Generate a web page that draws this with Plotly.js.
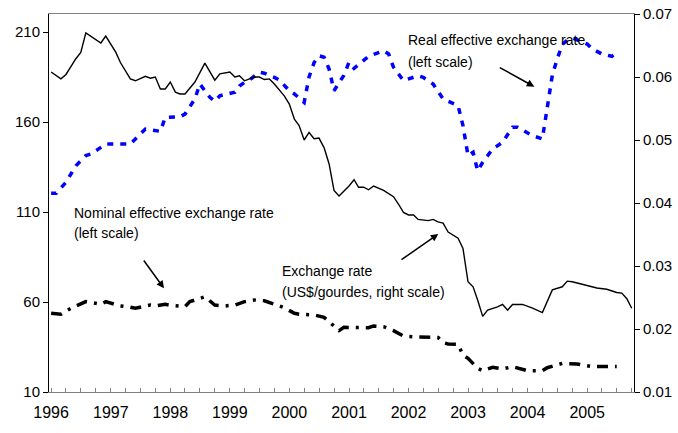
<!DOCTYPE html>
<html>
<head>
<meta charset="utf-8">
<script src="https://cdn.plot.ly/plotly-3.0.1.min.js"></script>
<style>
html,body{margin:0;padding:0;background:#fff;}
#chart{width:678px;height:433px;}
</style>
</head>
<body>
<div id="chart"></div>
<script>
// Month index 0 = January 1996
const erIdx = [0,2,3,5,6,7,10,11,13,14,16,17,19,20,21,22,23,24,25,26,27,29,31,33,34,36,37,38,39,40,41,42,43,44,45,47,48,49,50,51,52,53,54,55,56,57,58,60,61,62,63,64,65,67,69,70,71,72,73,74,76,77,78,79,80,82,83,84,85,86,87,88,90,91,92,93,95,97,98,99,101,103,104,105,107,110,112,114,115,116,117];
const erValues = [0.0608,0.0597,0.0604,0.0629,0.0639,0.0670,0.0654,0.0665,0.0639,0.0623,0.0597,0.0594,0.0601,0.0598,0.0600,0.0581,0.0581,0.0592,0.0576,0.0573,0.0573,0.0592,0.0622,0.0595,0.0605,0.0608,0.0600,0.0602,0.0594,0.0597,0.0600,0.0600,0.0596,0.0597,0.0589,0.0570,0.0557,0.0533,0.0523,0.0500,0.0512,0.0502,0.0503,0.0488,0.0462,0.0420,0.0411,0.0427,0.0437,0.0425,0.0425,0.0421,0.0427,0.0420,0.0410,0.0398,0.0385,0.0381,0.0381,0.0374,0.0372,0.0374,0.0370,0.0368,0.0354,0.0344,0.0328,0.0275,0.0267,0.0246,0.0220,0.0230,0.0235,0.0239,0.0230,0.0239,0.0239,0.0233,0.0229,0.0226,0.0262,0.0267,0.0276,0.0275,0.0271,0.0265,0.0263,0.0258,0.0257,0.0248,0.0233];

const reerIdx = [0,1,3,5,7,8,10,11,13,16,19,22,23,26,27,29,30,32,33,34,37,38,39,40,42,43,45,46,48,49,51,52,53,54,55,56,57,58,59,60,61,64,67,68,69,71,74,75,77,79,82,83,84,85,86,87,89,91,93,94,97,99,100,101,102,103,104,105,108,109,111,113,114];
const reerValues = [120.4,120.4,126.5,135.7,141.3,142.2,145.9,147.8,147.8,147.8,156.1,154.8,162.6,162.9,164.4,172.8,181.1,173.7,171.5,174.6,176.5,180.0,182.0,183.3,187.6,187.1,184.8,183.3,177.4,175.6,170.9,185.0,193.0,196.8,196.0,189.4,177.4,182.1,186.0,193.2,189.8,196.5,199.6,197.8,190.4,183.0,185.7,184.8,181.1,172.8,169.1,158.0,141.3,143.2,132.9,137.6,145.0,148.7,157.1,157.1,152.4,150.6,168.0,186.0,195.0,203.0,205.5,206.7,203.3,200.6,197.8,196.5,198.5];

const neerIdx = [0,2,4,7,8,10,11,14,16,17,20,21,23,24,27,28,31,33,35,37,39,41,43,46,47,49,50,53,55,56,58,59,61,64,65,67,69,71,73,75,78,79,80,82,83,84,86,87,89,91,93,96,99,100,103,106,109,114];
const neerValues = [53.7,53.2,56.5,60.2,59.8,58.7,60.2,57.8,57.1,56.5,58.3,57.8,58.7,58.2,57.4,60.2,62.9,58.3,57.8,58.3,60.2,61.1,60.7,57.4,56.8,53.7,53.2,52.8,51.5,49.1,44.1,45.9,45.7,45.7,46.7,46.3,44.1,41.1,40.7,40.7,40.3,37.4,36.7,36.5,30.6,28.7,23.2,21.8,23.7,22.8,24.1,21.8,21.8,23.5,25.9,25.6,24.1,24.1];

const yearLabels = ['1996','1997','1998','1999','2000','2001','2002','2003','2004','2005'];
const leftTicks = [10,60,110,160,210];
const rightTicks = [0.01,0.02,0.03,0.04,0.05,0.06,0.07];

function toDate(i){
  const y = 1996 + Math.floor(i/12);
  const m = (i % 12) + 1;
  return y + '-' + (m < 10 ? '0' + m : m) + '-01';
}

const FONT = '"Liberation Sans", Arial, sans-serif';

const traces = [
  {
    x: reerIdx.map(toDate), y: reerValues, type: 'scatter', mode: 'lines',
    line: {color: '#0000FF', width: 3.5, dash: '6px,7px'}, yaxis: 'y'
  },
  {
    x: neerIdx.map(toDate), y: neerValues, type: 'scatter', mode: 'lines',
    line: {color: '#000000', width: 3.5, dash: '11px,7px,3px,7px'}, yaxis: 'y'
  },
  {
    x: erIdx.map(toDate), y: erValues, type: 'scatter', mode: 'lines',
    line: {color: '#000000', width: 1.4}, yaxis: 'y2'
  }
];

const W = 585, H = 378, L = 49, T = 14;
function px(x){ return (x - L) / W; }
function py(y){ return (T + H - y) / H; }

function txt(x, y, s){
  return {xref:'paper', yref:'paper', x: px(x), y: py(y), text: s, showarrow:false,
    xanchor:'left', yanchor:'middle', font:{family:FONT, size:14, color:'#000'}};
}
function arrow(tx, ty, hx, hy){
  return {xref:'paper', yref:'paper', x: px(hx), y: py(hy), ax: tx - hx, ay: ty - hy,
    text:'', showarrow:true, arrowhead:2, arrowsize:1, arrowwidth:1.5, arrowcolor:'#000'};
}

const layout = {
  width: 678, height: 433,
  margin: {l: L, r: 678 - L - W, t: T, b: 433 - T - H},
  paper_bgcolor: '#fff', plot_bgcolor: '#fff',
  showlegend: false,
  font: {family: FONT, color: '#000'},
  xaxis: {
    type: 'date',
    range: ['1995-12-19', '2005-10-15'],
    tickvals: yearLabels.map(y => y + '-01-01'),
    ticktext: yearLabels,
    ticks: 'inside', ticklen: 4, tickcolor: '#808080',
    minor: {dtick: 'M3', tick0: '1996-01-01', ticks: 'inside', ticklen: 4, tickcolor: '#808080'},
    tickfont: {size: 16, family: FONT},
    ticklabelstandoff: 6,
    showgrid: false, zeroline: false,
    showline: true, linecolor: '#808080', linewidth: 1, mirror: true
  },
  yaxis: {
    range: [10, 220],
    tickvals: leftTicks,
    ticks: 'outside', ticklen: 5, tickcolor: '#000',
    tickfont: {size: 15, family: FONT},
    showgrid: false, zeroline: false,
    showline: true, linecolor: '#000', linewidth: 1
  },
  yaxis2: {
    range: [0.01, 0.07],
    overlaying: 'y', side: 'right',
    tickvals: rightTicks,
    tickformat: '.2f',
    ticks: 'outside', ticklen: 5, tickcolor: '#000',
    tickfont: {size: 15, family: FONT},
    showgrid: false, zeroline: false,
    showline: true, linecolor: '#000', linewidth: 1
  },
  yaxis3: {
    range: [0.01, 0.07],
    overlaying: 'y', side: 'right', anchor: 'x',
    tickvals: rightTicks,
    ticks: 'inside', ticklen: 5, tickcolor: '#000',
    showticklabels: false,
    showgrid: false, zeroline: false, showline: false
  },
  annotations: [
    txt(406, 40, 'Real effective exchange rate'),
    txt(406, 62, '(left scale)'),
    arrow(498.3, 66.7, 534.3, 86.7),
    txt(71.7, 212.7, 'Nominal effective exchange rate'),
    txt(71.7, 233.3, '(left scale)'),
    arrow(142.7, 259, 164, 288.3),
    txt(280, 270.7, 'Exchange rate'),
    txt(280, 291.7, '(US$/gourdes, right scale)'),
    arrow(400, 260.7, 438.3, 234)
  ]
};

Plotly.newPlot('chart', traces, layout, {staticPlot: true, displayModeBar: false});
</script>
</body>
</html>
